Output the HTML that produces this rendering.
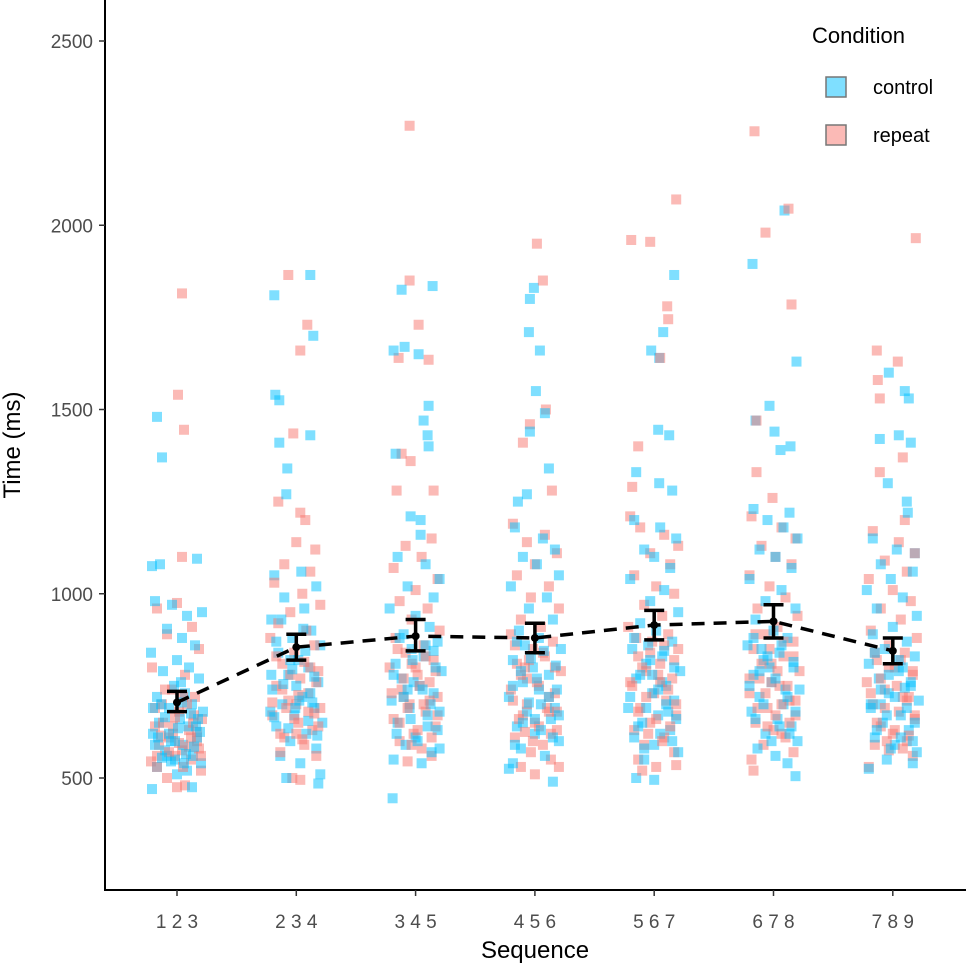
<!DOCTYPE html>
<html><head><meta charset="utf-8">
<style>
html,body{margin:0;padding:0;background:#fff;}
svg{display:block;font-family:"Liberation Sans",Arial,sans-serif;}
</style></head>
<body>
<svg id="chart" width="966" height="966" viewBox="0 0 966 966" xmlns="http://www.w3.org/2000/svg">
<g id="points"></g>
<g id="summary"></g>
<g id="axes"></g>
<g>
<text x="812" y="43" font-size="22" fill="#000">Condition</text>
<rect x="826" y="77" width="20" height="20" fill="rgba(0,191,255,0.5)" stroke="#777" stroke-width="1.5"/>
<text x="873" y="94" font-size="20" fill="#000">control</text>
<rect x="826" y="125" width="20" height="20" fill="rgba(248,118,109,0.5)" stroke="#777" stroke-width="1.5"/>
<text x="873" y="142" font-size="20" fill="#000">repeat</text>
</g>
</svg>
<script>
const categories=["1 2 3","2 3 4","3 4 5","4 5 6","5 6 7","6 7 8","7 8 9"];
const means=[705,855,885,880,915,925,845];
const errLow=[680,820,845,840,875,880,810];
const errHigh=[735,890,930,920,955,970,880];
const yTicks=[500,1000,1500,2000,2500];
// points: [jitter offset px, value]
const controlPts=[
[[-20,1480],[-15,1370],[20,1095],[-25,1075],[-17,1080],[-22,980],[-5,970],[10,940],[25,950],[-10,905],[5,880],[18,860],[-26,840],[0,820],[12,800],[-14,790],[22,770],[-3,750],[8,730],[-20,720],[15,700],[-8,690],[26,680],[3,660],[-18,650],[11,640],[-24,620],[20,610],[-6,600],[6,590],[-12,575],[16,560],[-2,550],[24,540],[-20,530],[10,520],[-25,470],[15,475],[0,510],[-16,700],[4,760],[-10,560],[19,640],[-22,590],
 [-6,545],[9,565],[-19,610],[23,625],[1,635],[-12,665],[14,675],[-24,690],[5,705],[-2,600],[17,585],[-15,555],[7,540],[-8,620],[21,660]],
[[14,1865],[-22,1810],[-21,1540],[-17,1525],[14,1430],[-17,1410],[-9,1340],[-10,1270],[17,1700],[-22,1050],[5,1060],[20,1020],[-12,990],[8,960],[-25,930],[15,900],[-4,880],[24,860],[-18,840],[2,820],[12,800],[-8,780],[22,760],[-24,740],[6,720],[-14,700],[18,690],[-2,670],[26,650],[-20,640],[10,620],[-6,600],[20,580],[-16,560],[4,540],[24,510],[-10,500],[22,485],[0,750],[-26,680],[14,730],[-6,820],
 [-20,870],[9,845],[-4,795],[18,775],[-13,755],[3,710],[-22,665],[12,655],[-8,635],[21,615],[-1,690],[7,905],[-15,930],[16,705],[-25,780]],
[[17,1835],[-14,1825],[-11,1670],[-22,1660],[3,1650],[13,1510],[8,1470],[12,1430],[13,1400],[-20,1380],[-5,1210],[5,1200],[5,1160],[-23,445],[-18,1100],[10,1080],[24,1040],[-8,1020],[18,990],[-26,960],[0,940],[14,910],[-12,890],[22,870],[-4,850],[8,830],[-20,810],[26,790],[-14,770],[4,750],[18,730],[-24,710],[-6,690],[12,670],[-18,650],[22,630],[0,610],[-10,590],[16,570],[-22,550],[6,540],[24,580],[-2,760],
 [-16,880],[10,860],[-3,820],[20,800],[-22,780],[7,740],[-12,720],[15,700],[-5,660],[24,680],[-19,620],[2,600],[12,640],[-8,740],[18,845]],
[[-1,1830],[-5,1800],[-6,1710],[5,1660],[1,1550],[10,1490],[-5,1440],[14,1340],[-17,1250],[-8,1270],[-20,1180],[8,1150],[20,1120],[-12,1100],[2,1080],[24,1050],[-24,1020],[12,990],[-6,960],[18,930],[-16,900],[4,880],[26,850],[-22,820],[-2,800],[14,780],[-12,760],[22,740],[-26,720],[6,700],[-8,680],[16,660],[-18,640],[0,620],[24,600],[-14,580],[10,560],[-22,540],[-26,525],[18,490],[4,740],[-10,860],[20,690],
 [-18,870],[9,845],[-4,825],[21,805],[-14,790],[2,770],[-22,750],[14,720],[-6,705],[24,670],[-12,650],[6,630],[18,610],[-20,590],[0,660]],
[[20,1865],[9,1710],[-3,1660],[5,1640],[4,1445],[15,1430],[-18,1330],[5,1300],[18,1280],[-20,1200],[6,1180],[22,1150],[-10,1120],[0,1100],[16,1070],[-24,1040],[10,1010],[-4,980],[24,950],[-14,920],[2,900],[18,870],[-22,850],[8,830],[-8,810],[26,790],[-18,770],[12,750],[-2,730],[20,710],[-26,690],[4,670],[-12,650],[16,630],[-20,610],[0,590],[24,570],[-10,550],[-18,500],[0,495],[8,760],[-6,860],[14,680],
 [-20,880],[10,845],[-4,820],[20,800],[-14,780],[4,740],[-24,720],[12,700],[-8,690],[22,660],[-16,640],[6,620],[18,600],[-2,780],[-10,580]],
[[11,2040],[-21,1895],[-4,1510],[-18,1470],[1,1440],[17,1400],[7,1390],[23,1630],[16,1220],[-20,1230],[-6,1200],[10,1180],[24,1150],[-14,1120],[2,1100],[18,1070],[-24,1040],[8,1010],[-8,980],[22,960],[-18,930],[0,900],[14,880],[-26,860],[6,840],[-10,820],[20,800],[-20,780],[-2,760],[26,740],[-14,720],[10,700],[-22,680],[4,660],[18,640],[-8,620],[24,600],[-16,580],[2,560],[14,540],[22,505],[-4,800],[12,740],
 [-20,880],[8,860],[-6,830],[20,815],[-14,790],[2,770],[-24,750],[14,720],[-10,700],[22,680],[-18,660],[6,640],[16,620],[-2,600],[-12,850]],
[[-4,1600],[12,1550],[16,1530],[-13,1420],[6,1430],[18,1410],[-5,1300],[14,1250],[15,1220],[22,1110],[-20,1150],[4,1120],[-12,1080],[20,1060],[-2,1040],[-26,1010],[10,990],[-16,960],[24,940],[0,910],[-20,890],[14,870],[-8,850],[22,830],[-24,810],[6,790],[-14,770],[18,750],[-4,730],[26,710],[-22,690],[8,670],[-10,650],[16,630],[-18,610],[2,590],[24,570],[-6,550],[20,540],[-24,525],[10,800],[-12,700],
 [-18,840],[6,820],[-4,780],[18,760],[-12,740],[2,720],[-22,700],[14,690],[-6,670],[22,650],[-16,630],[8,610],[20,600],[-2,580],[12,745]]
];
const repeatPts=[
[[5,1815],[1,1540],[7,1445],[5,1100],[-20,960],[0,975],[15,910],[-10,890],[22,850],[-25,800],[8,780],[-5,740],[18,720],[-15,700],[2,680],[25,660],[-22,640],[12,630],[-8,610],[20,600],[-18,590],[5,575],[-2,560],[14,550],[-26,545],[24,520],[-10,500],[8,480],[0,475],[-14,650],[17,670],[-4,620],[10,700],[-20,560],[22,580],
 [-12,740],[6,720],[-22,690],[16,650],[-4,640],[20,625],[-16,615],[2,595],[12,585],[-8,570],[24,560],[-20,530],[6,530],[-2,665],[14,610]],
[[-8,1865],[11,1730],[4,1660],[-3,1435],[-18,1250],[4,1220],[9,1200],[0,1140],[19,1120],[-12,1080],[14,1060],[-22,1030],[6,1000],[24,970],[-6,950],[-18,920],[10,900],[-26,880],[18,860],[-2,840],[-14,810],[22,790],[4,770],[-20,750],[12,730],[-8,710],[24,690],[-24,670],[2,650],[16,630],[-12,610],[8,590],[-4,500],[4,495],[20,560],[-16,570],[0,700],[14,800],
 [-20,830],[8,815],[-6,780],[20,760],[-14,740],[2,725],[-24,705],[12,680],[-2,660],[22,640],[-16,620],[6,605],[18,675],[-10,690],[0,620]],
[[-6,2270],[-6,1850],[3,1730],[-17,1640],[13,1635],[-14,1380],[-5,1360],[18,1280],[-19,1280],[16,1150],[-10,1130],[6,1100],[-22,1070],[22,1040],[0,1010],[-16,980],[12,960],[-4,930],[24,900],[-20,880],[8,860],[-10,840],[18,820],[-26,800],[2,780],[14,760],[-14,740],[22,720],[-6,700],[10,680],[-22,660],[20,640],[-2,620],[-16,600],[6,580],[16,560],[-8,545],[0,800],[-12,720],
 [-18,850],[10,830],[-4,810],[20,790],[-12,770],[4,750],[-24,730],[14,710],[-8,690],[22,670],[-16,650],[2,630],[16,610],[-4,590],[8,700]],
[[2,1950],[8,1850],[11,1500],[-5,1460],[-12,1410],[17,1280],[-22,1190],[10,1160],[-8,1140],[22,1110],[0,1080],[-18,1050],[14,1020],[-4,990],[24,960],[-14,930],[6,910],[-24,890],[18,870],[-2,850],[10,830],[-18,810],[26,790],[-8,770],[4,750],[20,730],[-22,710],[12,690],[-12,670],[0,650],[22,630],[-20,610],[8,590],[-4,570],[16,550],[-14,530],[24,530],[0,510],[-10,800],[14,680],
 [-20,860],[8,840],[-6,820],[20,800],[-14,780],[2,760],[-24,740],[14,720],[-8,700],[22,680],[-16,660],[4,640],[16,620],[-2,600],[-10,625]],
[[22,2070],[-23,1960],[-4,1955],[13,1780],[14,1745],[6,1640],[-16,1400],[-22,1290],[-24,1210],[-14,1180],[10,1160],[24,1130],[-4,1110],[16,1080],[-20,1050],[2,1020],[20,1000],[-10,970],[8,940],[-26,910],[14,890],[-2,870],[24,850],[-16,830],[6,810],[-8,790],[18,770],[-22,750],[0,730],[12,710],[-14,690],[22,670],[-4,650],[-20,630],[10,610],[-10,590],[20,570],[-16,550],[2,530],[22,535],[-12,520],[6,760],
 [-18,880],[10,860],[-4,840],[20,820],[-12,800],[4,780],[-24,760],[14,740],[-8,720],[22,700],[-16,680],[2,660],[16,640],[-6,620],[8,600]],
[[-19,2255],[15,2045],[-8,1980],[18,1785],[-17,1470],[-17,1330],[-1,1260],[-22,1210],[8,1180],[22,1150],[-12,1130],[2,1100],[18,1080],[-24,1050],[-4,1020],[12,990],[-16,960],[24,940],[4,910],[-8,890],[20,870],[-20,850],[10,830],[-2,810],[26,790],[-14,770],[6,750],[-24,730],[16,710],[-6,690],[22,670],[-18,650],[0,630],[12,610],[-10,590],[20,570],[-22,550],[-20,520],[8,700],[-2,760],
 [-18,890],[10,870],[-4,850],[20,830],[-12,810],[4,790],[-24,770],[14,750],[-8,730],[22,710],[-16,690],[2,670],[16,650],[-6,640],[8,620]],
[[23,1965],[-16,1660],[5,1630],[-15,1580],[-13,1530],[10,1370],[-13,1330],[12,1200],[-20,1170],[6,1140],[22,1110],[-8,1090],[14,1060],[-24,1040],[0,1010],[18,980],[-12,960],[8,930],[-22,900],[24,880],[-4,860],[12,840],[-16,820],[2,800],[20,780],[-26,760],[-8,740],[16,720],[-20,700],[6,680],[22,660],[-12,640],[0,620],[14,600],[-18,590],[-4,575],[20,560],[-24,530],[10,720],
 [-18,840],[8,820],[-4,800],[20,790],[-12,770],[4,750],[-22,730],[14,710],[-8,690],[22,670],[-16,650],[2,630],[16,615],[-6,600],[10,580]]
];

const NS="http://www.w3.org/2000/svg";
const X0=177,DX=119.3;
function xScale(i){return X0+i*DX;}
function yScale(v){return 778-(v-500)*0.3685;}
function mk(tag,attrs,parent){const e=document.createElementNS(NS,tag);for(const k in attrs)e.setAttribute(k,attrs[k]);parent.appendChild(e);return e;}
const P=document.getElementById('points'),S=document.getElementById('summary'),A=document.getElementById('axes');
const S2=10;
for(let g=0;g<categories.length;g++){
  const n=Math.max(controlPts[g].length,repeatPts[g].length);
  for(let k=0;k<n;k++){
    if(k<repeatPts[g].length){const p=repeatPts[g][k];
      const r=mk('rect',{x:xScale(g)+p[0]-S2/2,y:yScale(p[1])-S2/2,width:S2,height:S2,fill:'rgba(248,118,109,0.5)'},P);
      
      }
    if(k<controlPts[g].length){const p=controlPts[g][k];
      const r=mk('rect',{x:xScale(g)+p[0]-S2/2,y:yScale(p[1])-S2/2,width:S2,height:S2,fill:'rgba(0,191,255,0.5)'},P);
      
      }
  }
}
let d='';
for(let g=0;g<means.length;g++){d+=(g?'L':'M')+xScale(g)+','+yScale(means[g]);}
const ln=mk('path',{d:d,fill:'none',stroke:'#000','stroke-width':3.5,'stroke-dasharray':'13,9'},S);


for(let g=0;g<means.length;g++){
  const x=xScale(g),y1=yScale(errLow[g]),y2=yScale(errHigh[g]);
  const e=mk('path',{d:`M${x},${y1}L${x},${y2}M${x-10},${y1}L${x+10},${y1}M${x-10},${y2}L${x+10},${y2}`,stroke:'#000','stroke-width':3.5,fill:'none'},S);
  
  
  const c=mk('circle',{cx:x,cy:yScale(means[g]),r:4,fill:'#000'},S);
  
  
}
const ya=mk('line',{x1:105,y1:0,x2:105,y2:891,stroke:'#000','stroke-width':2},A);


const xa=mk('line',{x1:104,y1:890,x2:966,y2:890,stroke:'#000','stroke-width':2},A);


for(const t of yTicks){
  const y=yScale(t);
  const tk=mk('line',{x1:99,y1:y,x2:105,y2:y,stroke:'#333','stroke-width':1.5},A);
  
  
  const tx=mk('text',{x:93,y:y+7,'text-anchor':'end','font-size':19,fill:'#4d4d4d'},A);
  tx.textContent=t;
  
  
}
for(let g=0;g<categories.length;g++){
  const x=xScale(g);
  const tk=mk('line',{x1:x,y1:890,x2:x,y2:896,stroke:'#333','stroke-width':1.5},A);
  
  
  const tx=mk('text',{x:x,y:928,'text-anchor':'middle','font-size':19,fill:'#4d4d4d'},A);
  tx.textContent=categories[g];
  
  
}
const xt=mk('text',{x:535,y:958,'text-anchor':'middle','font-size':24,fill:'#000'},A);
xt.textContent='Sequence';


const yt=mk('text',{x:0,y:0,'text-anchor':'middle','font-size':24,fill:'#000',transform:'translate(20,445) rotate(-90)'},A);
yt.textContent='Time (ms)';


</script>
</body></html>
